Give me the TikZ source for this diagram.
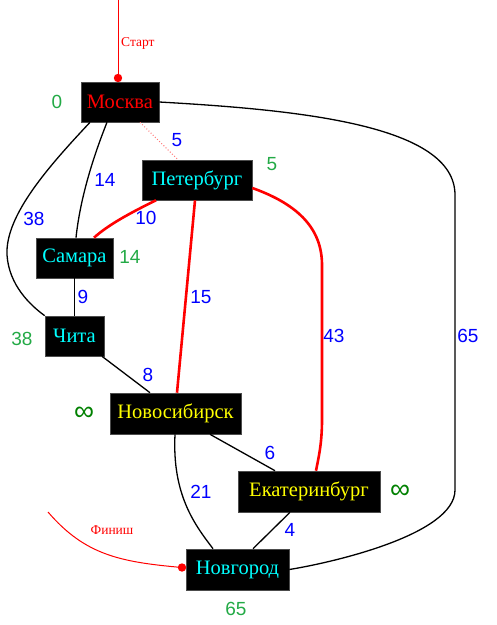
\documentclass[tikz,border=0pt]{standalone}
\usepackage{fontspec}
\setmainfont{Liberation Serif}
\newfontfamily\lsans{Liberation Sans}
\definecolor{wblue}{RGB}{0,0,255}
\definecolor{dgreen}{RGB}{35,170,70}
\definecolor{igreen}{RGB}{0,128,0}
\definecolor{pinkdot}{RGB}{255,120,120}
\definecolor{tcyan}{RGB}{0,255,255}
\definecolor{tyellow}{RGB}{255,255,0}
\definecolor{tred}{RGB}{255,0,0}
\begin{document}
\begin{tikzpicture}[x=1pt,y=-1pt,
  city/.style={draw=black!70,fill=black,line width=0.6pt,inner sep=0pt,minimum height=40pt,font=\fontsize{20.5}{20.5}\selectfont},
  wt/.style={text=wblue,font=\lsans\fontsize{19}{19}\selectfont,inner sep=0pt},
  dist/.style={text=dgreen,font=\lsans\fontsize{19}{19}\selectfont,inner sep=0pt},
  inf/.style={text=igreen,font=\lsans\fontsize{28}{28}\selectfont,inner sep=0pt},
  edge/.style={line width=1.3pt,black},
  redge/.style={line width=2.6pt,tred},
  small/.style={text=tred,font=\fontsize{13.5}{13.5}\selectfont,inner sep=0pt}]
\useasboundingbox (0,0) rectangle (497,625);

\node[city,minimum width=78pt,text=tred] (msk) at (120,102) {Москва};
\node[city,minimum width=110pt,text=tcyan] (spb) at (197,180) {Петербург};
\node[city,minimum width=77pt,text=tcyan] (sam) at (74.5,258) {Самара};
\node[city,minimum width=59pt,text=tcyan] (chi) at (74.5,336) {Чита};
\node[city,minimum width=131pt,minimum height=41pt,text=tyellow] (nsk) at (175.5,413.5) {Новосибирск};
\node[city,minimum width=142pt,minimum height=41pt,text=tyellow] (ekb) at (309,491.5) {Екатеринбург};
\node[city,minimum width=103pt,minimum height=41pt,text=tcyan] (nov) at (237.5,569.5) {Новгород};

% start
\coordinate (st) at (118,0);
\coordinate (stdot) at (118,78);
\draw[tred,line width=1pt] (st) -- (stdot);
\fill[tred] (stdot) circle (4.2pt);
\node[small,anchor=west] (stl) at (121,43) {Старт};

% finish
\coordinate (fn) at (48,512);
\coordinate (fndot) at (182,567.5);
\draw[tred,line width=1pt] (fn) .. controls (85,555) and (120,562) .. (fndot);
\fill[tred] (fndot) circle (4.2pt);
\node[small] (fnl) at (112,530) {Финиш};

% edges
\draw[pinkdot,line width=1pt,dotted] ([xshift=20pt]msk.south) -- ([xshift=-19pt]spb.north);
\draw[edge] ([xshift=-13pt]msk.south) .. controls (92,160) and (80,200) .. ([xshift=1.5pt]sam.north);
\draw[edge] ([xshift=-30pt]msk.south) .. controls (50,165) and (5,215) .. (7,255) .. controls (9,285) and (30,305) .. (chi.north west);
\draw[edge] (msk.east) .. controls (300,110) and (455,125) .. (455,195) -- (455,490) .. controls (455,535) and (330,563) .. (nov.east);
\draw[redge] ([xshift=-41pt]spb.south) .. controls (130,213) and (108,225) .. ([xshift=19.5pt]sam.north);
\draw[redge] ([xshift=-2pt]spb.south) -- ([xshift=1.5pt]nsk.north);
\draw[redge] ([yshift=-8pt]spb.east) .. controls (300,205) and (322,230) .. (322,265) -- (322,420) .. controls (322,445) and (318,460) .. ([xshift=7pt]ekb.north);
\draw[edge] (sam.south) -- (chi.north);
\draw[edge] ([xshift=27.5pt]chi.south) -- ([xshift=-25.5pt]nsk.north);
\draw[edge] ([xshift=34.5pt]nsk.south) -- ([xshift=-34pt]ekb.north);
\draw[edge] ([xshift=-0.5pt]nsk.south) .. controls (172,495) and (195,525) .. ([xshift=-24.5pt]nov.north);
\draw[edge] ([xshift=-19pt]ekb.south) -- ([xshift=15.5pt]nov.north);

% weights
\node[wt] (w1) at (177,140) {5};
\node[wt] (w2) at (105,180) {14};
\node[wt] (w3) at (34,219) {38};
\node[wt] (w4) at (468,336) {65};
\node[wt] (w5) at (146,218) {10};
\node[wt] (w6) at (201,297) {15};
\node[wt] (w7) at (334,336) {43};
\node[wt] (w8) at (83,297) {9};
\node[wt] (w9) at (148,375) {8};
\node[wt] (w10) at (270,453) {6};
\node[wt] (w11) at (201,492) {21};
\node[wt] (w12) at (290,530) {4};

% distances
\node[dist] (d1) at (57,102) {0};
\node[dist] (d2) at (272,164) {5};
\node[dist] (d3) at (130,257) {14};
\node[dist] (d4) at (22,339) {38};
\node[inf] (d5) at (84,414) {∞};
\node[inf] (d6) at (400,492) {∞};
\node[dist] (d7) at (236,609) {65};
\end{tikzpicture}
\end{document}
